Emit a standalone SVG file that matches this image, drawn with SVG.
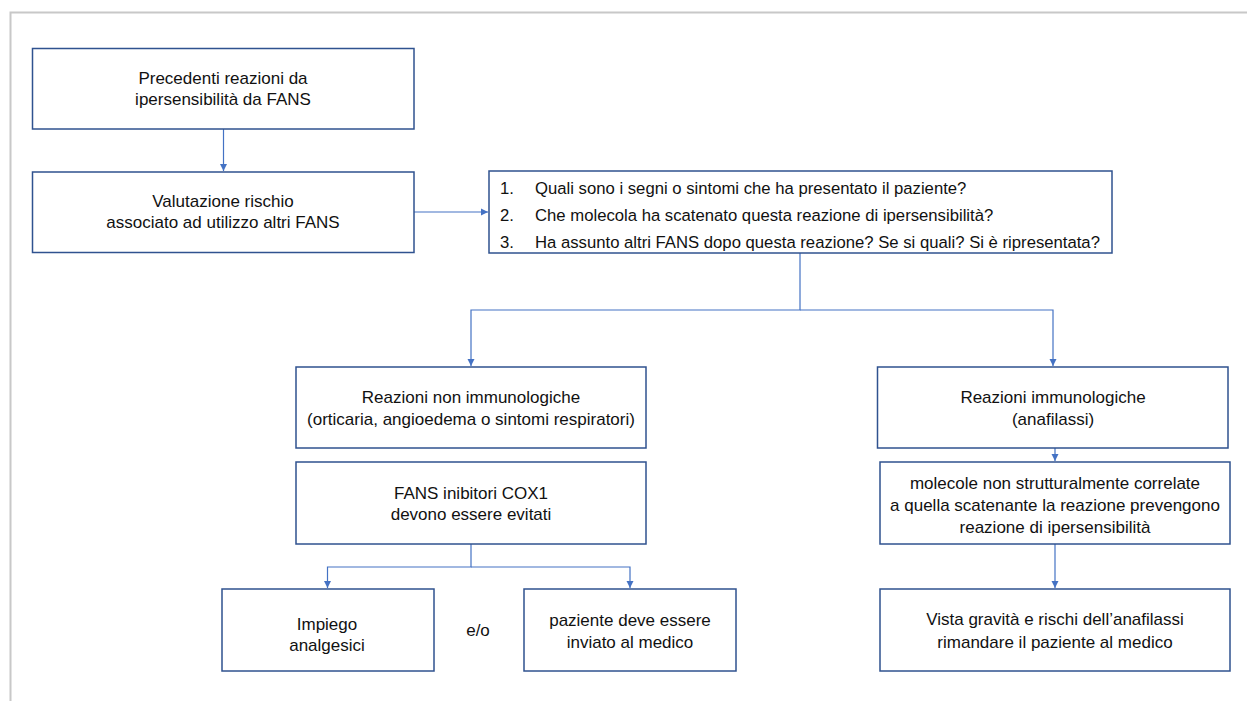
<svg xmlns="http://www.w3.org/2000/svg" width="1248" height="701" viewBox="0 0 1248 701">
<style>
.box{fill:#fff;stroke:#2F528F;stroke-width:1.5}
.c{fill:none;stroke:#4472C4;stroke-width:1.2}
text{font-family:"Liberation Sans",Arial,sans-serif;font-size:17px;fill:#111}
.q{font-size:16.7px}
.m{text-anchor:middle}
</style>
<defs>
<marker id="ah" markerWidth="8" markerHeight="8" refX="7" refY="4" orient="auto" markerUnits="userSpaceOnUse">
<path d="M0,0.5 L7,4 L0,7.5 Z" fill="#4472C4"/>
</marker>
</defs>
<rect width="1248" height="701" fill="#fff"/>
<path d="M10.5,701 V12.5 H1247" fill="none" stroke="#c8c8c8" stroke-width="2"/>
<g id="connectors">
<path class="c" d="M223.5,129 V171" marker-end="url(#ah)"/>
<path class="c" d="M414,212 H488" marker-end="url(#ah)"/>
<path class="c" d="M800,253 V310 H471 V366" marker-end="url(#ah)"/>
<path class="c" d="M800,310 H1053 V366" marker-end="url(#ah)"/>
<path class="c" d="M471,544 V567 H327.5 V588" marker-end="url(#ah)"/>
<path class="c" d="M471,567 H630 V588" marker-end="url(#ah)"/>
<path class="c" d="M1055,448 V461" marker-end="url(#ah)"/>
<path class="c" d="M1055,544 V588" marker-end="url(#ah)"/>
</g>
<g id="n1"><rect class="box" x="32.5" y="48.5" width="381.5" height="80.5"/>
<text class="m" x="223" y="84">Precedenti reazioni da</text>
<text class="m" x="223" y="104.5">ipersensibilità da FANS</text></g>
<g id="n2"><rect class="box" x="32.5" y="172" width="381.5" height="80.5"/>
<text class="m" x="223" y="207">Valutazione rischio</text>
<text class="m" x="223" y="228">associato ad utilizzo altri FANS</text></g>
<g id="n3"><rect class="box" x="489" y="171" width="623" height="82"/>
<text class="q" x="500" y="194">1.</text><text class="q" x="535" y="194">Quali sono i segni o sintomi che ha presentato il paziente?</text>
<text class="q" x="500" y="221">2.</text><text class="q" x="535" y="221">Che molecola ha scatenato questa reazione di ipersensibilità?</text>
<text class="q" x="500" y="248">3.</text><text class="q" x="535" y="248">Ha assunto altri FANS dopo questa reazione? Se si quali? Si è ripresentata?</text></g>
<g id="n4"><rect class="box" x="296" y="367" width="350" height="81"/>
<text class="m" x="471" y="403">Reazioni non immunologiche</text>
<text class="m" x="471" y="425">(orticaria, angioedema o sintomi respiratori)</text></g>
<g id="n5"><rect class="box" x="296" y="462" width="350" height="82"/>
<text class="m" x="471" y="499">FANS inibitori COX1</text>
<text class="m" x="471" y="520">devono essere evitati</text></g>
<g id="n6"><rect class="box" x="222" y="589" width="212" height="82"/>
<text class="m" x="327" y="630">Impiego</text>
<text class="m" x="327" y="651">analgesici</text></g>
<g id="n7"><text class="m" x="478" y="636">e/o</text></g>
<g id="n8"><rect class="box" x="524" y="589" width="212" height="82"/>
<text class="m" x="630" y="626">paziente deve essere</text>
<text class="m" x="630" y="648">inviato al medico</text></g>
<g id="n9"><rect class="box" x="877.5" y="367" width="350.5" height="81"/>
<text class="m" x="1053" y="403">Reazioni immunologiche</text>
<text class="m" x="1053" y="425">(anafilassi)</text></g>
<g id="n10"><rect class="box" x="880" y="462" width="350" height="82"/>
<text class="m" x="1055" y="489">molecole non strutturalmente correlate</text>
<text class="m" x="1055" y="511">a quella scatenante la reazione prevengono</text>
<text class="m" x="1055" y="533">reazione di ipersensibilità</text></g>
<g id="n11"><rect class="box" x="880" y="589" width="350" height="82"/>
<text class="m" x="1055" y="625">Vista gravità e rischi dell’anafilassi</text>
<text class="m" x="1055" y="648">rimandare il paziente al medico</text></g>
</svg>
